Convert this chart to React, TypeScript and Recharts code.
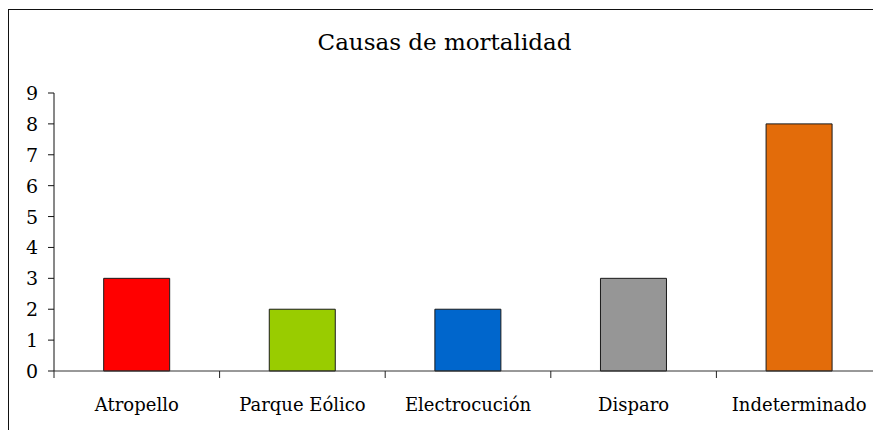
import { BarChart, Bar, XAxis, YAxis, Cell } from 'recharts';

const categories = ['Atropello', 'Parque Eólico', 'Electrocución', 'Disparo', 'Indeterminado'];
const counts = [3, 2, 2, 3, 8];
const barColors = ['#FF0000', '#99CC00', '#0066CC', '#969696', '#E36C0A'];
const yTicks = [0, 1, 2, 3, 4, 5, 6, 7, 8, 9];

const FONT = 'DejaVu Serif';

const data = categories.map((name, i) => ({ name, value: counts[i] }));

// label under the band, plus a short tick at the band's left edge
function CategoryTick(props: any) {
  const { x, y, payload } = props;
  const half = payload?.offset ?? 0;
  return (
    <g>
      <line x1={x - half} x2={x - half} y1={y} y2={y + 7} stroke="#222" strokeWidth={1} />
      <text x={x} y={y + 40} textAnchor="middle" fontFamily={FONT} fontSize={18} fill="#000">
        {payload.value}
      </text>
    </g>
  );
}

function ValueTick(props: any) {
  const { x, y, payload } = props;
  return (
    <text x={x} y={y} dy={7} textAnchor="end" fontFamily={FONT} fontSize={19} fill="#000">
      {payload.value}
    </text>
  );
}

export default function App() {
  return (
    <div style={{ position: 'relative', width: 873, height: 422, overflow: 'hidden', background: '#fff' }}>
      <div
        style={{
          position: 'absolute', top: 1, left: 0, width: 1000, height: 1000,
          border: '1px solid #111', boxSizing: 'border-box', pointerEvents: 'none',
        }}
      />
      <div
        style={{
          position: 'absolute', top: 20, left: 0, width: 873, textAlign: 'center',
          fontFamily: FONT, fontSize: 23, color: '#000', lineHeight: '28px',
        }}
      >
        Causas de mortalidad
      </div>
      <BarChart
        width={874}
        height={422}
        data={data}
        margin={{ top: 85, right: 0, bottom: 0, left: 0 }}
        barCategoryGap="30%"
      >
        <XAxis
          dataKey="name"
          interval={0}
          height={59}
          tickSize={0}
          tickMargin={0}
          tickLine={false}
          axisLine={{ stroke: '#333' }}
          tick={<CategoryTick />}
        />
        <YAxis
          width={46}
          domain={[0, 9]}
          ticks={yTicks}
          interval={0}
          tickSize={6}
          tickMargin={10}
          axisLine={{ stroke: '#111' }}
          tickLine={{ stroke: '#111' }}
          tick={<ValueTick />}
        />
        <Bar dataKey="value" stroke="#1a1a1a" strokeWidth={1} isAnimationActive={false}>
          {data.map((d, i) => (
            <Cell key={d.name} fill={barColors[i]} />
          ))}
        </Bar>
      </BarChart>
    </div>
  );
}
